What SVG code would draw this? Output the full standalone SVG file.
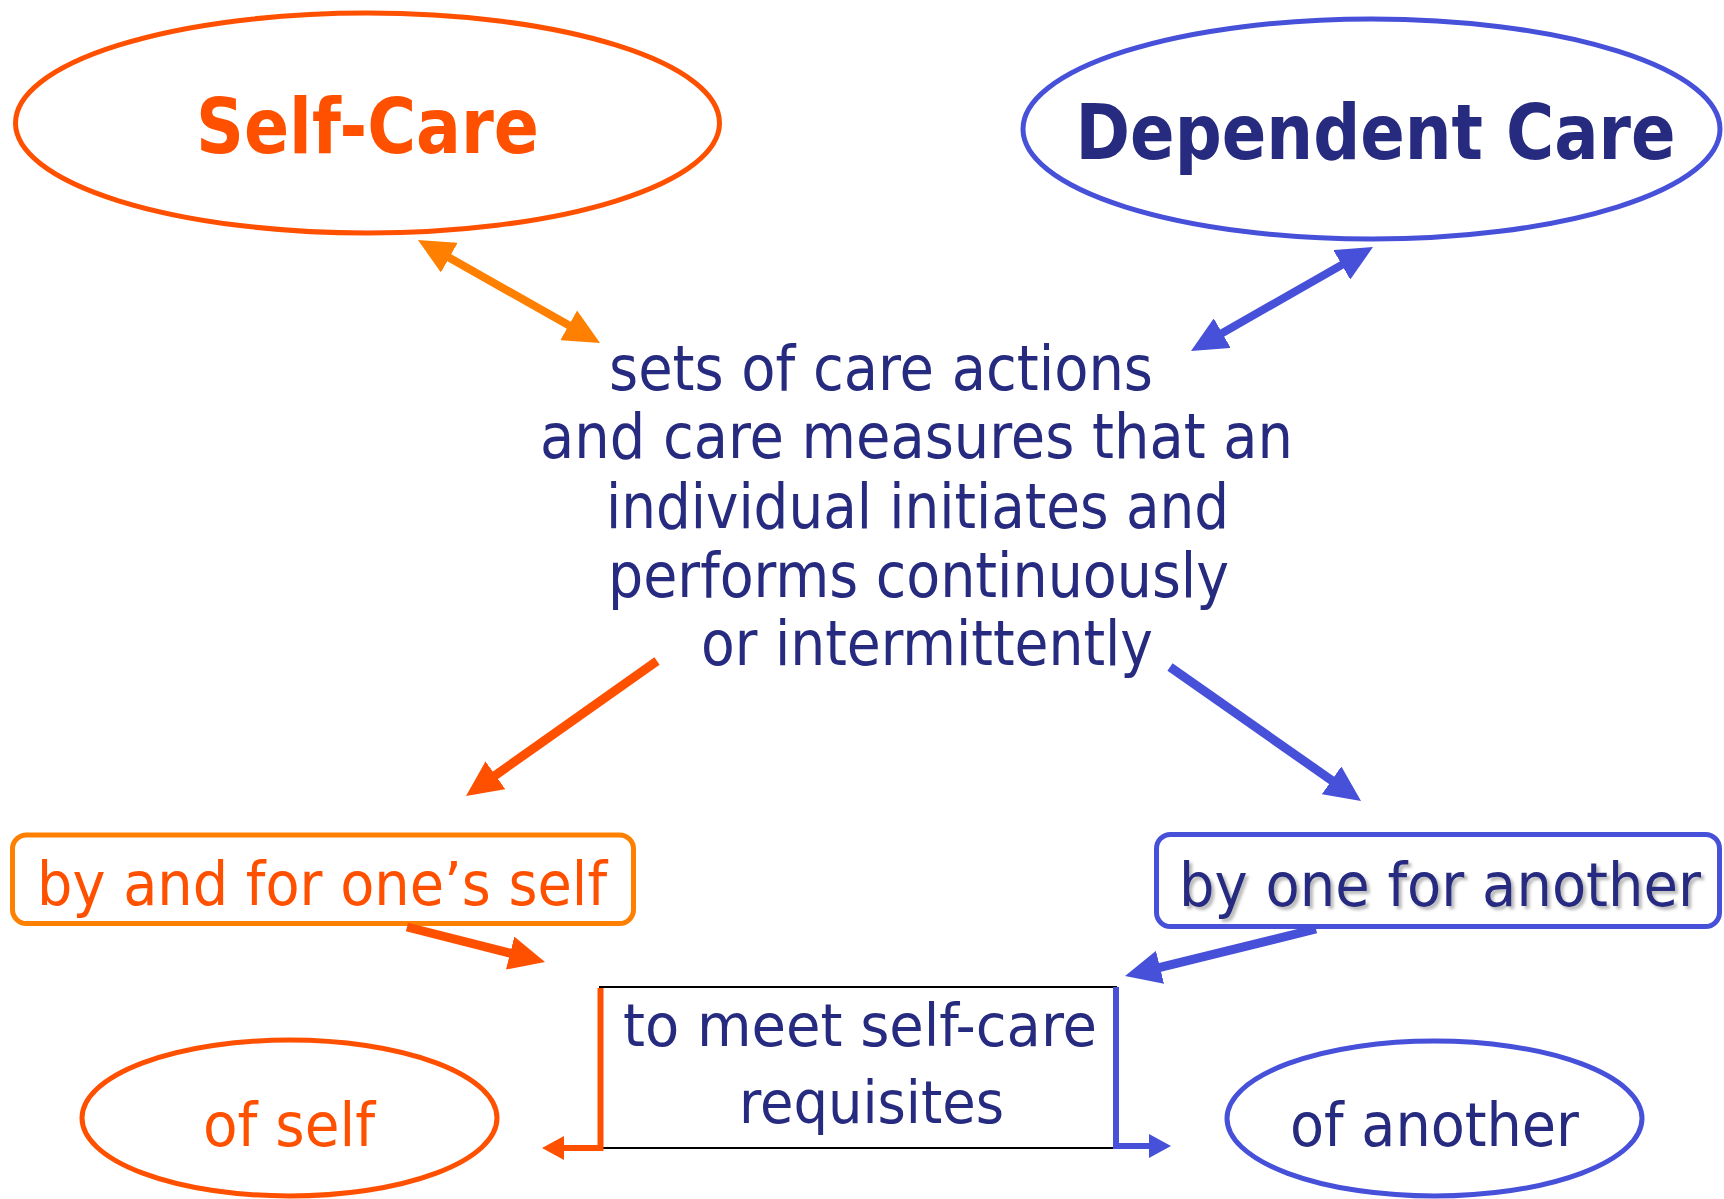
<svg xmlns="http://www.w3.org/2000/svg" width="1724" height="1199" viewBox="0 0 1724 1199">
<style>
  .t { font-family: "DejaVu Sans Condensed", "DejaVu Sans", "Liberation Sans", sans-serif; font-stretch: condensed; }
  .b { font-weight: bold; }
  .navy { fill: #272B80; }
  .red { fill: #FF5000; }
  .ored { fill: none; stroke: #FF5000; }
  .oor { fill: none; stroke: #FF8000; }
  .oblue { fill: none; stroke: #4650D8; }
  .node { fill: #FFFFFF; stroke-width: 5; }
  .c8 { stroke-width: 8; fill: none; }
  .c9 { stroke-width: 9; fill: none; }
  .c6 { stroke-width: 6; fill: none; }
</style>
<defs>
  <filter id="shadow" x="-10%" y="-20%" width="130%" height="160%">
    <feDropShadow dx="3" dy="3" stdDeviation="1.6" flood-color="#808080" flood-opacity="0.55"/>
  </filter>
  <marker id="hOr" viewBox="0 0 36 34" refX="24" refY="17" markerWidth="36" markerHeight="34" markerUnits="userSpaceOnUse" orient="auto-start-reverse">
    <path d="M0,0 L36,17 L0,34 z" fill="#FF8000"/>
  </marker>
  <marker id="hRed" viewBox="0 0 36 34" refX="24" refY="17" markerWidth="36" markerHeight="34" markerUnits="userSpaceOnUse" orient="auto-start-reverse">
    <path d="M0,0 L36,17 L0,34 z" fill="#FF5000"/>
  </marker>
  <marker id="hBlue" viewBox="0 0 36 34" refX="24" refY="17" markerWidth="36" markerHeight="34" markerUnits="userSpaceOnUse" orient="auto-start-reverse">
    <path d="M0,0 L36,17 L0,34 z" fill="#4650D8"/>
  </marker>
  <marker id="sRed" viewBox="0 0 22 24" refX="14" refY="12" markerWidth="22" markerHeight="24" markerUnits="userSpaceOnUse" orient="auto">
    <path d="M0,0 L22,12 L0,24 z" fill="#FF5000"/>
  </marker>
  <marker id="sBlue" viewBox="0 0 22 24" refX="14" refY="12" markerWidth="22" markerHeight="24" markerUnits="userSpaceOnUse" orient="auto">
    <path d="M0,0 L22,12 L0,24 z" fill="#4650D8"/>
  </marker>
</defs>
<rect width="1724" height="1199" fill="#FFFFFF"/>

<g id="self-care">
  <ellipse class="node ored" cx="367.5" cy="123" rx="352" ry="110" style="fill:#FFFFFF"/>
  <text class="t b red" x="367.5" y="153" font-size="77" text-anchor="middle" textLength="343" lengthAdjust="spacingAndGlyphs">Self-Care</text>
</g>

<g id="dependent-care">
  <ellipse class="node oblue" cx="1371.5" cy="129" rx="348.5" ry="110" style="fill:#FFFFFF"/>
  <text class="t b navy" x="1375.5" y="159" font-size="76" text-anchor="middle" textLength="600" lengthAdjust="spacingAndGlyphs">Dependent Care</text>
</g>

<g id="care-actions">
  <text class="t navy" font-size="62">
    <tspan x="609" y="390" textLength="544" lengthAdjust="spacingAndGlyphs">sets of care actions</tspan>
    <tspan x="540" y="458" textLength="753" lengthAdjust="spacingAndGlyphs">and care measures that an</tspan>
    <tspan x="606" y="528" textLength="623" lengthAdjust="spacingAndGlyphs">individual initiates and</tspan>
    <tspan x="608" y="597" textLength="621" lengthAdjust="spacingAndGlyphs">performs continuously</tspan>
    <tspan x="701" y="665" textLength="452" lengthAdjust="spacingAndGlyphs">or intermittently</tspan>
  </text>
</g>

<g id="by-and-for-self">
  <rect x="12.5" y="835" width="621" height="88.5" rx="14" class="node oor" style="fill:#FFFFFF"/>
  <text class="t red" x="37" y="904.5" font-size="60" textLength="570" lengthAdjust="spacingAndGlyphs">by and for one’s self</text>
</g>

<g id="by-one-for-another">
  <rect x="1156.5" y="834.5" width="563" height="92" rx="14" class="node oblue" style="fill:#FFFFFF"/>
  <text class="t navy" x="1179" y="906" font-size="60" textLength="522" lengthAdjust="spacingAndGlyphs" filter="url(#shadow)">by one for another</text>
</g>

<g id="requisites">
  <rect x="600" y="987" width="516" height="161" fill="#FFFFFF" stroke="#000000" stroke-width="2"/>
  <text class="t navy" font-size="58">
    <tspan x="623" y="1046" textLength="474" lengthAdjust="spacingAndGlyphs">to meet self-care</tspan>
    <tspan x="739" y="1123" textLength="265" lengthAdjust="spacingAndGlyphs">requisites</tspan>
  </text>
</g>

<g id="of-self">
  <ellipse class="node ored" cx="289.5" cy="1118" rx="207.5" ry="78" style="fill:#FFFFFF"/>
  <text class="t red" x="203" y="1146" font-size="60" textLength="172" lengthAdjust="spacingAndGlyphs">of self</text>
</g>

<g id="of-another">
  <ellipse class="node oblue" cx="1434.5" cy="1118.5" rx="207.5" ry="77.5" style="fill:#FFFFFF"/>
  <text class="t navy" x="1290" y="1146" font-size="60" textLength="289" lengthAdjust="spacingAndGlyphs">of another</text>
</g>

<g id="connectors">
  <path class="c8" stroke="#FF8000" d="M428.4,245.9 L589.6,337.1" marker-start="url(#hOr)" marker-end="url(#hOr)"/>
  <path class="c8" stroke="#4650D8" d="M1362.6,253 L1201.4,345" marker-start="url(#hBlue)" marker-end="url(#hBlue)"/>
  <path class="c9" stroke="#FF5000" d="M657,661 L475.8,789.1" marker-end="url(#hRed)"/>
  <path class="c9" stroke="#4650D8" d="M1170,667 L1351.2,794.1" marker-end="url(#hBlue)"/>
  <path class="c9" stroke="#FF5000" d="M407,927 L533.4,959" marker-end="url(#hRed)"/>
  <path class="c9" stroke="#4650D8" d="M1316,929 L1136.7,973.1" marker-end="url(#hBlue)"/>
  <path class="c6" stroke="#FF5000" d="M600.5,988 V1148 H550" marker-end="url(#sRed)"/>
  <path class="c6" stroke="#4650D8" d="M1116,987 V1146 H1163" marker-end="url(#sBlue)"/>
</g>
</svg>
